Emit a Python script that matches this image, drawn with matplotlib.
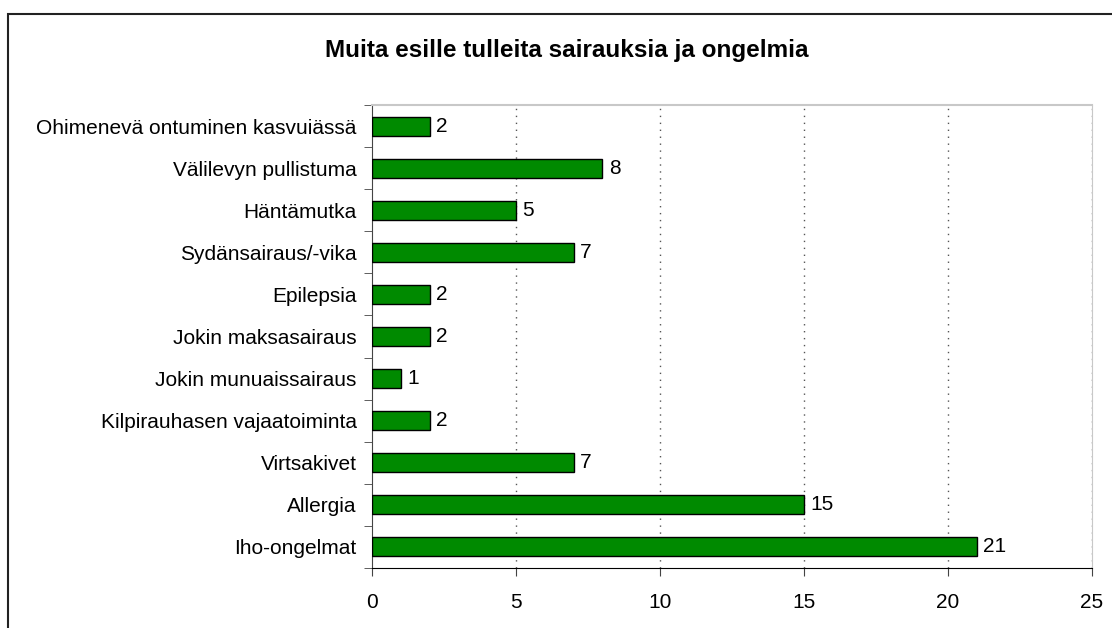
import matplotlib.pyplot as plt
from matplotlib.patches import Rectangle

plt.rcParams['font.family'] = ['Liberation Sans', 'DejaVu Sans']

categories = ['Iho-ongelmat', 'Allergia', 'Virtsakivet', 'Kilpirauhasen vajaatoiminta',
              'Jokin munuaissairaus', 'Jokin maksasairaus', 'Epilepsia',
              'Sydänsairaus/-vika', 'Häntämutka', 'Välilevyn pullistuma',
              'Ohimenevä ontuminen kasvuiässä']
values = [21, 15, 7, 2, 1, 2, 2, 7, 5, 8, 2]
x_ticks = [0, 5, 10, 15, 20, 25]

W, H = 1112, 628
fig = plt.figure(figsize=(W / 100, H / 100), dpi=100)
ax = fig.add_axes([372 / W, 1 - 568 / H, (1092 - 372) / W, (568 - 105) / H])

# outer frame (right/bottom fall outside the picture)
fig.patches.append(Rectangle((8 / W, -0.1), 1.2, 1 - 14 / H + 0.1, transform=fig.transFigure,
                             fill=False, edgecolor='#222222', linewidth=1.5))

pos = range(len(categories))
ax.barh(pos, values, height=0.45, color='#008a00', edgecolor='black', linewidth=1, zorder=3)
for p, v in zip(pos, values):
    ax.text(v + 0.22, p, str(v), va='center', ha='left', fontsize=15)

ax.set_xlim(0, 25)
ax.set_ylim(-0.5, len(categories) - 0.5)
ax.set_xticks(x_ticks)
ax.tick_params(axis='x', labelsize=15, length=6, pad=12, color='#444444')
ax.set_yticks(pos)
ax.set_yticklabels(categories, fontsize=15)
ax.tick_params(axis='y', which='major', length=0, pad=11)
ax.set_yticks([p - 0.5 for p in pos] + [len(categories) - 0.5], minor=True)
ax.tick_params(axis='y', which='minor', length=6, color='#444444')

for t in x_ticks[1:]:
    ax.axvline(t, color='#555555', linestyle=(0, (1, 4)), linewidth=1, zorder=1)

ax.spines['left'].set_color('#444444')
ax.spines['bottom'].set_color('black')
ax.spines['top'].set_color('#c8c8c8')
ax.spines['right'].set_color('#c8c8c8')
ax.spines['top'].set_linewidth(1.5)

fig.text(567 / W, 1 - 50 / H, 'Muita esille tulleita sairauksia ja ongelmia',
         ha='center', va='center', fontsize=17.5, fontweight='bold')

fig.savefig('out.png', dpi=100)
